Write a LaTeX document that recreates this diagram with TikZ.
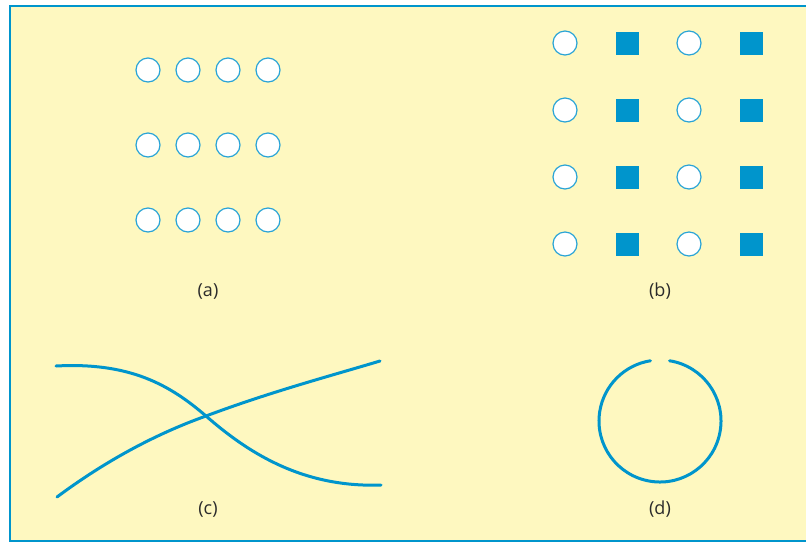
\documentclass[tikz,border=0pt]{standalone}
\usepackage{fontspec}
\setmainfont{Open Sans}
\definecolor{bgyellow}{HTML}{FEF8C0}
\definecolor{mblue}{HTML}{0095CC}
\definecolor{lblue}{HTML}{2AA4D6}
\definecolor{labgray}{HTML}{2B2B2B}
\tikzset{
  dot/.style={circle, draw=lblue, line width=1.2pt, fill=white, minimum size=24pt, inner sep=0pt},
  sq/.style={rectangle, fill=mblue, minimum size=23pt, inner sep=0pt},
  lab/.style={text=labgray, font=\fontsize{18}{21}\selectfont, inner sep=0pt},
  curve/.style={draw=mblue, line width=3pt, line cap=round}
}
\begin{document}
\begin{tikzpicture}[x=1pt, y=-1pt]
\useasboundingbox (0,0) rectangle (806,542);
\fill[white] (0,0) rectangle (806,542);
\fill[bgyellow] (10,6) rectangle (806,542);
\draw[mblue, line width=2.5pt] (806,6) -- (10,6) -- (10,541) -- (806,541);
% (a)
\foreach \r [count=\ri] in {70,145,220}{
  \foreach \c [count=\ci] in {148,188,228,268}{
    \node[dot] (a\ri\ci) at (\c,\r) {};
  }
}
% (b)
\foreach \r [count=\ri] in {43,110,177,244}{
  \node[dot] (bc\ri a) at (565,\r) {};
  \node[sq] (bs\ri a) at (627,\r) {};
  \node[dot] (bc\ri b) at (689,\r) {};
  \node[sq] (bs\ri b) at (751,\r) {};
}
\node[lab] (la) at (208,291) {(a)};
\node[lab] (lb) at (660,291) {(b)};
\node[lab] (lc) at (208,509) {(c)};
\node[lab] (ld) at (660,509) {(d)};
% (c)
\coordinate (x) at (206,416);
\draw[curve] (56,366) .. controls (130,362) and (170,385) .. (x) .. controls (245,450) and (300,488) .. (381,485);
\draw[curve] (57,497) .. controls (100,465) and (150,436) .. (x) .. controls (270,392) and (330,376) .. (380,361);
% (d)
\coordinate (dc) at (660,421);
\draw[curve] ([shift={(-81:61)}]dc) arc[start angle=-81, end angle=261, radius=61];
\end{tikzpicture}
\end{document}
